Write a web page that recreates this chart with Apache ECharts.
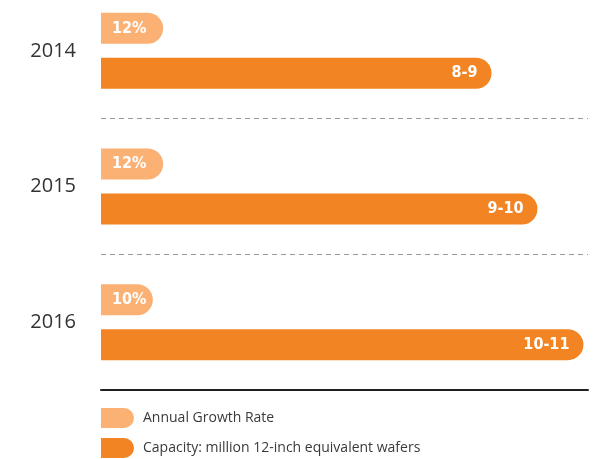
<!DOCTYPE html>
<html>
<head>
<meta charset="utf-8">
<script src="https://cdn.jsdelivr.net/npm/echarts@6/dist/echarts.min.js"></script>
<style>
  html, body { margin: 0; padding: 0; background: #fff; }
  #chart { width: 609px; height: 459px; }
</style>
</head>
<body>
<div id="chart"></div>
<script>
// 数据
var years = ['2014', '2015', '2016'];
var growthRate = [12, 12, 10];
var growthLabels = ['12%', '12%', '10%'];
var capacity = [8.5, 9.5, 10.5];
var capacityLabels = ['8-9', '9-10', '10-11'];
var seriesNames = ['Annual Growth Rate', 'Capacity: million 12-inch equivalent wafers'];

var lightOrange = '#fbb074';
var darkOrange = '#f38423';
var barFont = '"Liberation Sans Narrow", "DejaVu Sans Condensed", "Roboto", sans-serif';

var chart = echarts.init(document.getElementById('chart'));

var option = {
    animation: false,
    legend: {
        orient: 'vertical',
        left: 101,
        top: 408,
        padding: 0,
        itemWidth: 33,
        itemHeight: 20,
        itemGap: 10,
        icon: 'path://M0,0 H23 A10,10 0 0 1 23,20 H0 Z',
        textStyle: {
            color: '#3a3a3a',
            fontSize: 14,
            fontFamily: '"Open Sans", sans-serif',
            padding: [0, 0, 0, 4]
        },
        data: seriesNames
    },
    grid: {
        left: 101,
        right: 21,
        top: -17,
        height: 407,
        containLabel: false,
        outerBoundsMode: 'none'
    },
    xAxis: [
        {
            type: 'value', min: 0, max: 10.6,
            axisLine: { show: true, lineStyle: { color: '#231f20', width: 2 } },
            axisTick: { show: false },
            axisLabel: { show: false },
            splitLine: { show: false }
        },
        { type: 'value', min: 0, max: 94, show: false }
    ],
    yAxis: {
        type: 'category',
        inverse: true,
        data: years,
        axisTick: { show: false },
        axisLine: { show: false },
        axisLabel: {
            color: '#333',
            fontSize: 20,
            margin: 25,
            fontFamily: '"Open Sans", sans-serif'
        },
        splitLine: {
            show: true,
            lineStyle: { color: '#999', type: [5, 4], width: 1 }
        }
    },
    series: [
        {
            name: seriesNames[0],
            type: 'bar',
            xAxisIndex: 1,
            barWidth: 31,
            barGap: '45%',
            itemStyle: { color: lightOrange, borderRadius: [0, 16, 16, 0] },
            label: {
                show: true,
                position: 'insideLeft',
                distance: 11,
                color: '#fff',
                fontWeight: 'bold',
                fontSize: 16,
                fontFamily: barFont,
                formatter: function (p) { return growthLabels[p.dataIndex]; }
            },
            data: growthRate
        },
        {
            name: seriesNames[1],
            type: 'bar',
            xAxisIndex: 0,
            barWidth: 31,
            barGap: '45%',
            itemStyle: { color: darkOrange, borderRadius: [0, 16, 16, 0] },
            label: {
                show: true,
                position: 'insideRight',
                distance: 14,
                color: '#fff',
                fontWeight: 'bold',
                fontSize: 16,
                fontFamily: barFont,
                formatter: function (p) { return capacityLabels[p.dataIndex]; }
            },
            data: capacity
        }
    ]
};

chart.setOption(option);
</script>
</body>
</html>
